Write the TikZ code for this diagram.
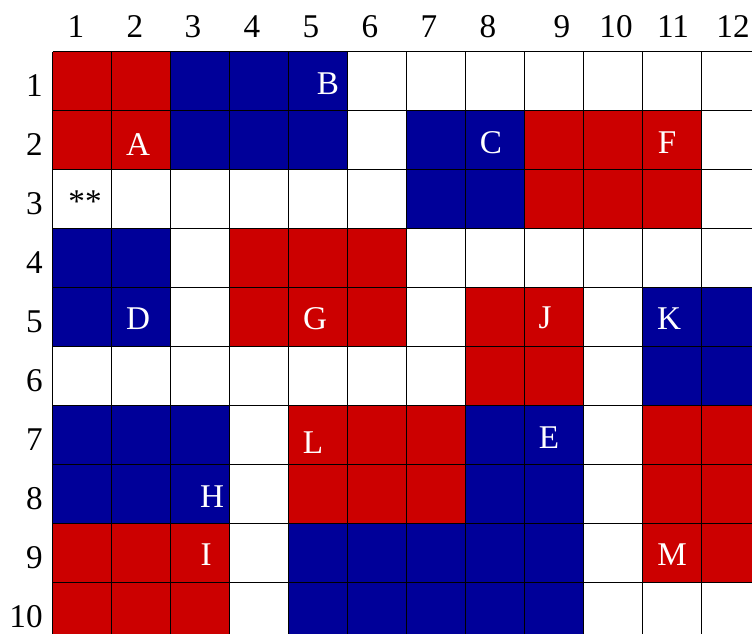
\documentclass[tikz,border=0pt]{standalone}
\usepackage{fontspec}
\setmainfont{Liberation Serif}
\usetikzlibrary{positioning}
\definecolor{gridred}{RGB}{204,0,0}
\definecolor{gridblue}{RGB}{0,0,153}

\begin{document}
\begin{tikzpicture}[
    redblock/.style={fill=gridred},
    blueblock/.style={fill=gridblue},
    cellmark/.style={inner sep=0pt, text=white, font=\fontsize{16}{19}\selectfont},
    axislabel/.style={inner sep=0pt, font=\fontsize{16}{19}\selectfont}
]
\useasboundingbox (-0.89,0.873) rectangle (11.856,-9.856);
% Coloured blocks
\fill[redblock] (0,0) rectangle (2,-2);
\fill[blueblock] (2,0) rectangle (5,-2);
\fill[blueblock] (6,-1) rectangle (8,-3);
\fill[redblock] (8,-1) rectangle (11,-3);
\fill[blueblock] (0,-3) rectangle (2,-5);
\fill[redblock] (3,-3) rectangle (6,-5);
\fill[redblock] (7,-4) rectangle (9,-6);
\fill[blueblock] (10,-4) rectangle (12,-6);
\fill[blueblock] (0,-6) rectangle (3,-8);
\fill[redblock] (4,-6) rectangle (7,-8);
\fill[blueblock] (7,-6) rectangle (9,-8);
\fill[blueblock] (4,-8) rectangle (9,-10);
\fill[redblock] (10,-6) rectangle (12,-9);
\fill[redblock] (0,-8) rectangle (3,-10);
% Grid
\draw[line width=0.9pt] (0,-10) grid (12,0);
% Column numbers
\node[axislabel, anchor=base] (col1) at (0.398,0.234) {1};
\node[axislabel, anchor=base] (col2) at (1.398,0.234) {2};
\node[axislabel, anchor=base] (col3) at (2.381,0.234) {3};
\node[axislabel, anchor=base] (col4) at (3.381,0.234) {4};
\node[axislabel, anchor=base] (col5) at (4.381,0.234) {5};
\node[axislabel, anchor=base] (col6) at (5.381,0.234) {6};
\node[axislabel, anchor=base] (col7) at (6.381,0.234) {7};
\node[axislabel, anchor=base] (col8) at (7.381,0.234) {8};
\node[axislabel, anchor=base] (col9) at (8.636,0.234) {9};
\node[axislabel, anchor=base] (col10) at (9.551,0.234) {10};
\node[axislabel, anchor=base] (col11) at (10.517,0.234) {11};
\node[axislabel, anchor=base] (col12) at (11.534,0.234) {12};
% Row numbers
\foreach \r in {1,...,10}
    \node[axislabel, anchor=base east] (row\r) at (-0.16,{-\r+0.5-0.27}) {\r};
% Cell letters
\node[cellmark] (B) at (4.669,-0.551) {B};
\node[cellmark] (A) at (1.449,-1.585) {A};
\node[cellmark] (C) at (7.432,-1.551) {C};
\node[cellmark] (F) at (10.415,-1.551) {F};
\node[cellmark, text=black] (stars) at (0.551,-2.551) {**};
\node[cellmark] (D) at (1.449,-4.534) {D};
\node[cellmark] (G) at (4.449,-4.534) {G};
\node[cellmark] (J) at (8.347,-4.517) {J};
\node[cellmark] (K) at (10.449,-4.534) {K};
\node[cellmark] (E) at (8.415,-6.551) {E};
\node[cellmark] (L) at (4.415,-6.636) {L};
\node[cellmark] (H) at (2.703,-7.551) {H};
\node[cellmark] (I) at (2.602,-8.534) {I};
\node[cellmark] (M) at (10.5,-8.534) {M};
\end{tikzpicture}
\end{document}
